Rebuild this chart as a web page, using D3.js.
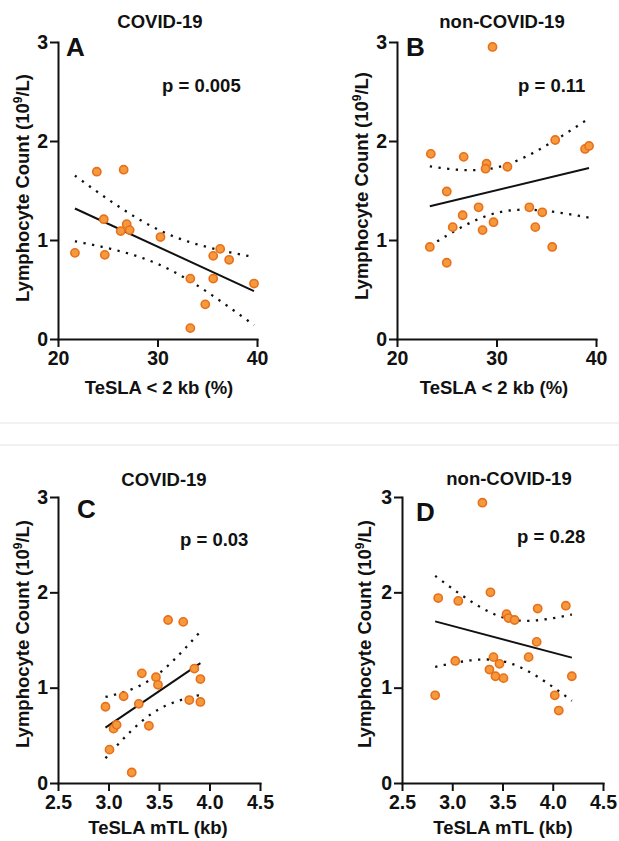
<!DOCTYPE html>
<html>
<head>
<meta charset="utf-8">
<script src="https://cdn.jsdelivr.net/npm/d3@7"></script>
<style>
  body { margin: 0; background: #fff; }
  svg { display: block; }
  text { font-family: "Liberation Sans", Arial, sans-serif; font-weight: bold; fill: #111; }
  .axis path, .axis line { stroke: #111; stroke-width: 2; }
  .axis text { font-size: 19.5px; font-weight: bold; fill: #111; }
  .dot { fill: #f49a3c; stroke: #e8701c; stroke-width: 1.6; }
  .fit { fill: none; stroke: #111; stroke-width: 2; }
  .band { fill: none; stroke: #111; stroke-width: 2.3; stroke-dasharray: 2.3 6.4; }
</style>
</head>
<body>
<div id="chart"></div>
<script>
// ---- data ----
const yTicks = [0, 1, 2, 3];
const shortTicks = [20, 30, 40];
const mtlTicks = [2.5, 3.0, 3.5, 4.0, 4.5];

const panelLetters = ['A', 'B', 'C', 'D'];
const groupTitles = ['COVID-19', 'non-COVID-19', 'COVID-19', 'non-COVID-19'];
const pValues = ['p = 0.005', 'p = 0.11', 'p = 0.03', 'p = 0.28'];
const xTitles = ['TeSLA < 2 kb (%)', 'TeSLA < 2 kb (%)', 'TeSLA mTL (kb)', 'TeSLA mTL (kb)'];

// A: COVID-19, TeSLA < 2 kb (%)
const covidShort = [21.7, 23.9, 26.6, 24.6, 24.7, 26.3, 26.9, 27.2, 30.3, 33.3, 33.3, 34.8, 35.6, 35.6, 36.3, 37.2, 39.7];
const covidLymphShort = [0.87, 1.69, 1.71, 1.21, 0.85, 1.09, 1.16, 1.10, 1.03, 0.61, 0.11, 0.35, 0.84, 0.61, 0.91, 0.80, 0.56];

// B: non-COVID-19, TeSLA < 2 kb (%)
const nonCovidShort = [23.4, 23.3, 25.0, 25.0, 25.6, 26.7, 26.6, 28.2, 28.6, 29.0, 28.9, 29.6, 29.7, 31.1, 33.3, 33.9, 34.6, 35.6, 35.9, 38.9, 39.3];
const nonCovidLymphShort = [1.87, 0.93, 1.49, 0.77, 1.13, 1.84, 1.25, 1.33, 1.10, 1.77, 1.72, 2.95, 1.18, 1.74, 1.33, 1.13, 1.28, 0.93, 2.01, 1.92, 1.95];

// C: COVID-19, TeSLA mTL (kb)
const covidMtl = [2.97, 3.01, 3.05, 3.08, 3.15, 3.23, 3.30, 3.33, 3.40, 3.47, 3.49, 3.59, 3.74, 3.80, 3.85, 3.91, 3.91];
const covidLymphMtl = [0.80, 0.35, 0.57, 0.61, 0.91, 0.11, 0.83, 1.15, 0.60, 1.11, 1.03, 1.71, 1.69, 0.87, 1.20, 1.09, 0.85];

// D: non-COVID-19, TeSLA mTL (kb)
const nonCovidMtl = [2.83, 2.86, 3.03, 3.06, 3.30, 3.37, 3.38, 3.41, 3.43, 3.47, 3.51, 3.54, 3.56, 3.62, 3.76, 3.84, 3.85, 4.02, 4.06, 4.13, 4.19];
const nonCovidLymphMtl = [0.92, 1.94, 1.28, 1.91, 2.94, 1.19, 2.00, 1.32, 1.12, 1.25, 1.10, 1.77, 1.73, 1.71, 1.32, 1.48, 1.83, 0.92, 0.76, 1.86, 1.12];

// approximate two sided 95% t critical value (Cornish-Fisher expansion)
function tCrit(df) {
  const z = 1.959964;
  const z3 = z ** 3, z5 = z ** 5, z7 = z ** 7, z9 = z ** 9;
  const g1 = (z3 + z) / 4;
  const g2 = (5 * z5 + 16 * z3 + 3 * z) / 96;
  const g3 = (3 * z7 + 19 * z5 + 17 * z3 - 15 * z) / 384;
  const g4 = (79 * z9 + 776 * z7 + 1482 * z5 - 1920 * z3 - 945 * z) / 92160;
  return z + g1 / df + g2 / df ** 2 + g3 / df ** 3 + g4 / df ** 4;
}

class ScatterPanel {

  constructor(_config, _x, _y) {
    this.config = _config;
    this.data = _x.map((d, i) => ({ x: d, y: _y[i] }));
    this.initVis();
  }

  initVis() {
    let vis = this;
    const c = vis.config;

    vis.xScale = d3.scaleLinear().domain(c.xDomain).range([c.x0, c.x1]);
    vis.yScale = d3.scaleLinear().domain([0, 3]).range([c.y0, c.y1]);

    vis.g = c.svg.append('g');

    vis.xAxisG = vis.g.append('g')
      .attr('class', 'axis')
      .attr('transform', `translate(0,${c.y0})`)
      .call(d3.axisBottom(vis.xScale)
        .tickValues(c.xTicks)
        .tickFormat(c.xFormat)
        .tickSize(8).tickPadding(4).tickSizeOuter(0));

    vis.yAxisG = vis.g.append('g')
      .attr('class', 'axis')
      .attr('transform', `translate(${c.x0},0)`)
      .call(d3.axisLeft(vis.yScale)
        .tickValues(yTicks)
        .tickFormat(d3.format('d'))
        .tickSize(8).tickPadding(2).tickSizeOuter(0));

    vis.g.selectAll('.domain').attr('stroke-linecap', 'square');

    // titles and annotations
    vis.g.append('text')
      .attr('x', c.titleX).attr('y', c.titleY)
      .attr('text-anchor', 'middle')
      .style('font-size', '18.5px')
      .text(c.title);

    vis.g.append('text')
      .attr('x', c.letterX).attr('y', c.letterY)
      .style('font-size', '26px')
      .text(c.letter);

    vis.g.append('text')
      .attr('x', c.pX).attr('y', c.pY)
      .style('font-size', '18.5px')
      .text(c.p);

    vis.g.append('text')
      .attr('x', c.xLabelX).attr('y', c.xLabelY)
      .attr('text-anchor', 'middle')
      .style('font-size', '18.5px')
      .text(c.xTitle);

    let yLab = vis.g.append('text')
      .attr('transform', `translate(${c.yLabelX},${c.yLabelY}) rotate(-90)`)
      .attr('text-anchor', 'middle')
      .style('font-size', '18.5px');
    yLab.append('tspan').text('Lymphocyte Count (10');
    yLab.append('tspan').attr('dy', -7).style('font-size', '12px').text('9');
    yLab.append('tspan').attr('dy', 7).text('/L)');
  }

  updateVis() {
    let vis = this;
    const n = vis.data.length;
    const mx = d3.mean(vis.data, d => d.x);
    const my = d3.mean(vis.data, d => d.y);
    const sxx = d3.sum(vis.data, d => (d.x - mx) ** 2);
    const sxy = d3.sum(vis.data, d => (d.x - mx) * (d.y - my));
    vis.slope = sxy / sxx;
    vis.intercept = my - vis.slope * mx;
    const sse = d3.sum(vis.data, d => (d.y - vis.intercept - vis.slope * d.x) ** 2);
    const s = Math.sqrt(sse / (n - 2));
    const t = tCrit(n - 2);

    const [xmin, xmax] = d3.extent(vis.data, d => d.x);
    vis.fit = [xmin, xmax].map(x => ({ x: x, y: vis.intercept + vis.slope * x }));

    const steps = 60;
    vis.band = d3.range(steps + 1).map(i => {
      const x = xmin + (xmax - xmin) * i / steps;
      const yhat = vis.intercept + vis.slope * x;
      const h = t * s * Math.sqrt(1 / n + (x - mx) ** 2 / sxx);
      return { x: x, lo: yhat - h, hi: yhat + h };
    });

    vis.renderVis();
  }

  renderVis() {
    let vis = this;

    const line = d3.line().x(d => vis.xScale(d.x)).y(d => vis.yScale(d.y));
    const hiLine = d3.line().x(d => vis.xScale(d.x)).y(d => vis.yScale(d.hi)).curve(d3.curveBasis);
    const loLine = d3.line().x(d => vis.xScale(d.x)).y(d => vis.yScale(d.lo)).curve(d3.curveBasis);

    vis.g.append('path').attr('class', 'band').attr('d', hiLine(vis.band));
    vis.g.append('path').attr('class', 'band').attr('d', loLine(vis.band));
    vis.g.append('path').attr('class', 'fit').attr('d', line(vis.fit));

    vis.g.selectAll('.dot')
      .data(vis.data)
      .join('circle')
      .attr('class', 'dot')
      .attr('cx', d => vis.xScale(d.x))
      .attr('cy', d => vis.yScale(d.y))
      .attr('r', 4.1);
  }
}

const svg = d3.select('#chart').append('svg')
  .attr('width', 619)
  .attr('height', 841);

// light separator between the two rows
svg.selectAll('.sep')
  .data([423, 445])
  .join('line')
  .attr('x1', 0).attr('x2', 619)
  .attr('y1', d => d).attr('y2', d => d)
  .attr('stroke', '#e4e4e4')
  .attr('stroke-width', 1.2);

const fmtShort = d3.format('d');
const fmtMtl = d3.format('.1f');

const layouts = [
  { x0: 58, x1: 257, y0: 339, y1: 42, titleX: 160, titleY: 28, letterX: 66, letterY: 56, pX: 162, pY: 92, yLabelX: 29, yLabelY: 188, xLabelX: 159, xLabelY: 394 },
  { x0: 397, x1: 596, y0: 339, y1: 42, titleX: 502, titleY: 28, letterX: 406, letterY: 56, pX: 518, pY: 92, yLabelX: 368, yLabelY: 186, xLabelX: 494, xLabelY: 394 },
  { x0: 58, x1: 260, y0: 783, y1: 497, titleX: 164, titleY: 486, letterX: 77, letterY: 518, pX: 180, pY: 546, yLabelX: 29, yLabelY: 634, xLabelX: 158, xLabelY: 834 },
  { x0: 402, x1: 603, y0: 783, y1: 497, titleX: 509, titleY: 485, letterX: 416, letterY: 521, pX: 517, pY: 543, yLabelX: 371, yLabelY: 634, xLabelX: 503, xLabelY: 834 }
];

const xs = [covidShort, nonCovidShort, covidMtl, nonCovidMtl];
const ys = [covidLymphShort, nonCovidLymphShort, covidLymphMtl, nonCovidLymphMtl];

layouts.forEach((lay, i) => {
  const isShort = i < 2;
  const panel = new ScatterPanel(Object.assign({
    svg: svg,
    xDomain: isShort ? [20, 40] : [2.5, 4.5],
    xTicks: isShort ? shortTicks : mtlTicks,
    xFormat: isShort ? fmtShort : fmtMtl,
    title: groupTitles[i],
    letter: panelLetters[i],
    p: pValues[i],
    xTitle: xTitles[i]
  }, lay), xs[i], ys[i]);
  panel.updateVis();
});
</script>
</body>
</html>
